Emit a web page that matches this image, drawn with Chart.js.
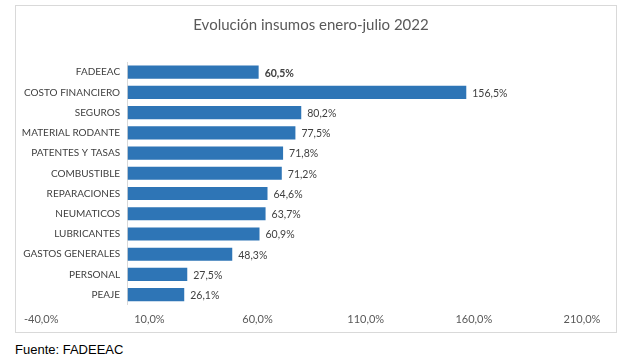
<!DOCTYPE html>
<html>
<head>
<meta charset="utf-8">
<script src="https://cdn.jsdelivr.net/npm/chart.js@4"></script>
<style>
  body { margin: 0; background: #fff; width: 627px; height: 362px; position: relative; overflow: hidden; }
  #chart-box { position: absolute; left: 15px; top: 5px; width: 602px; height: 328px; border: 1px solid #d9d9d9; box-sizing: border-box; }
  #source { position: absolute; left: 15px; top: 342px; font-family: "Liberation Sans", Arial, sans-serif; font-size: 13px; color: #000; }
</style>
</head>
<body>
<div id="chart-box"><canvas id="chart" width="600" height="326"></canvas></div>
<div id="source">Fuente: FADEEAC</div>
<script>
'use strict';

// ***** DATA *****
const categories = ['FADEEAC', 'COSTO FINANCIERO', 'SEGUROS', 'MATERIAL RODANTE', 'PATENTES Y TASAS',
  'COMBUSTIBLE', 'REPARACIONES', 'NEUMATICOS', 'LUBRICANTES', 'GASTOS GENERALES', 'PERSONAL', 'PEAJE'];
const increases = [60.5, 156.5, 80.2, 77.5, 71.8, 71.2, 64.6, 63.7, 60.9, 48.3, 27.5, 26.1];
const xTicks = [-40, 10, 60, 110, 160, 210];

const chartTitle = 'Evolución insumos enero-julio 2022';

// ***** HELPERS *****
function pct(v){
  return v.toFixed(1).replace('.', ',') + '%';
}

// value labels at the end of each bar
const valueLabels = {
  id: 'valueLabels',
  afterDatasetsDraw(chart){
    const ctx = chart.ctx;
    const meta = chart.getDatasetMeta(0);
    ctx.save();
    ctx.fillStyle = '#404040';
    ctx.textBaseline = 'middle';
    ctx.textAlign = 'left';
    meta.data.forEach((bar, i) => {
      ctx.font = (i === 0 ? 'bold ' : '') + '10.5px Lato, sans-serif';
      ctx.fillText(pct(increases[i]), bar.x + 6, bar.y + 1);
    });
    ctx.restore();
  }
};

// ***** CHART *****
new Chart(document.getElementById('chart'), {
  type: 'bar',
  data: {
    labels: categories,
    datasets: [{
      data: increases,
      backgroundColor: '#2e75b6',
      barPercentage: 0.65,
      categoryPercentage: 1
    }]
  },
  options: {
    indexAxis: 'y',
    responsive: false,
    animation: false,
    layout: { padding: { left: 24, right: 34, top: 0, bottom: -2 } },
    plugins: {
      legend: { display: false },
      tooltip: { enabled: false },
      title: {
        display: true,
        text: chartTitle,
        color: '#595959',
        font: { family: 'Lato, sans-serif', size: 15, weight: 'normal' },
        padding: { top: 10, bottom: 28 }
      }
    },
    scales: {
      x: {
        min: xTicks[0],
        max: xTicks[xTicks.length - 1],
        afterBuildTicks(axis){
          axis.ticks = xTicks.map(v => ({ value: v }));
        },
        grid: { display: false, drawTicks: false },
        border: { display: false },
        ticks: {
          padding: 8,
          color: '#595959',
          font: { family: 'Lato, sans-serif', size: 11 },
          callback: v => pct(v)
        }
      },
      y: {
        position: { x: 0 },
        grid: { display: false, drawTicks: false },
        border: { display: true, color: '#d9d9d9' },
        ticks: {
          color: '#404040',
          font: { family: 'Lato, sans-serif', size: 10 },
          // the axis sits inside the plot, so keep a small gap with trailing spaces
          callback: (v, i) => categories[i] + '   '
        }
      }
    }
  },
  plugins: [valueLabels]
});
</script>
</body>
</html>
